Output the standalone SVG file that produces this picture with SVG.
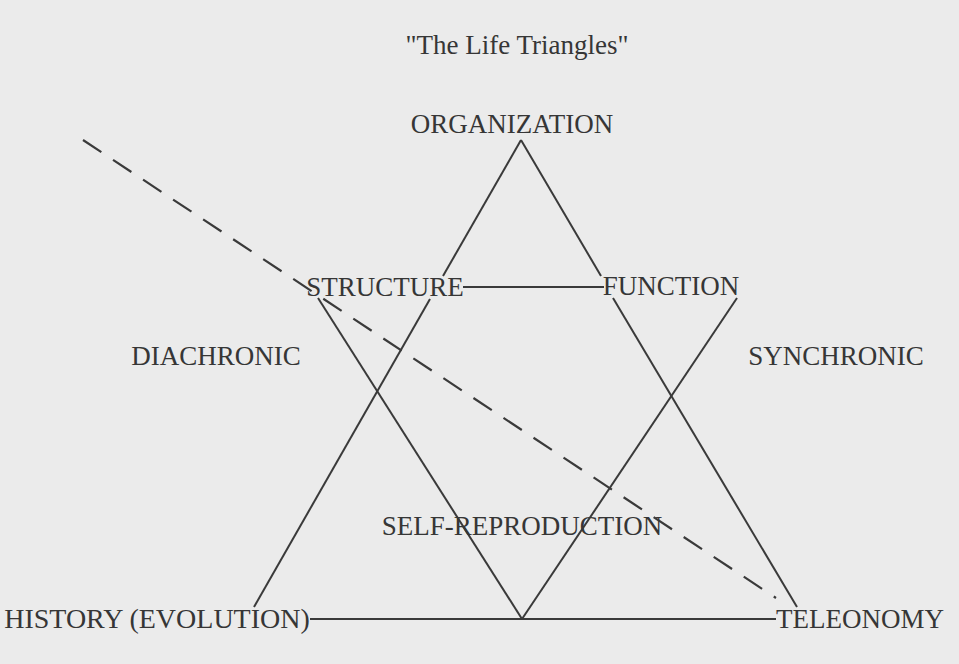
<svg xmlns="http://www.w3.org/2000/svg" width="959" height="664" viewBox="0 0 959 664">
  <style>
    .lbl { font-family: "Liberation Serif", "Times New Roman", serif; font-size: 27px; fill: #363636; text-anchor: middle; }
    .ln { stroke: #3a3a3a; stroke-width: 2; fill: none; stroke-linecap: butt; }
    .dash { stroke: #3a3a3a; stroke-width: 2.2; fill: none; stroke-dasharray: 22 14; }
  </style>
  <rect x="0" y="0" width="959" height="664" fill="#ebebeb"/>
  <text id="title" class="lbl" x="517" y="54">"The Life Triangles"</text>

  <g id="connectors">
    <!-- outer triangle: organization - history - teleonomy -->
    <line class="ln" x1="521" y1="140" x2="443" y2="276"/>
    <line class="ln" x1="430" y1="299" x2="254" y2="607"/>
    <line class="ln" x1="521" y1="140" x2="601" y2="276"/>
    <line class="ln" x1="613" y1="298" x2="797" y2="607"/>
    <line class="ln" x1="310" y1="619" x2="776" y2="619"/>
    <!-- inverted triangle: structure - function - self-reproduction -->
    <line class="ln" x1="463" y1="287" x2="604" y2="287"/>
    <line class="ln" x1="318" y1="298" x2="522" y2="619"/>
    <line class="ln" x1="737" y1="298" x2="522" y2="619"/>
    <!-- dashed divider -->
    <line class="dash" x1="83" y1="140" x2="776" y2="598"/>
  </g>

  <g id="organization"><text class="lbl" x="512" y="133">ORGANIZATION</text></g>
  <g id="structure"><text class="lbl" x="385" y="296">STRUCTURE</text></g>
  <g id="function"><text class="lbl" x="671" y="295">FUNCTION</text></g>
  <g id="diachronic"><text class="lbl" x="216" y="365">DIACHRONIC</text></g>
  <g id="synchronic"><text class="lbl" x="836" y="365">SYNCHRONIC</text></g>
  <g id="self-reproduction"><text class="lbl" x="522" y="535">SELF-REPRODUCTION</text></g>
  <g id="history"><text class="lbl" x="157" y="628" style="font-size:28px">HISTORY (EVOLUTION)</text></g>
  <g id="teleonomy"><text class="lbl" x="860" y="628">TELEONOMY</text></g>
</svg>
